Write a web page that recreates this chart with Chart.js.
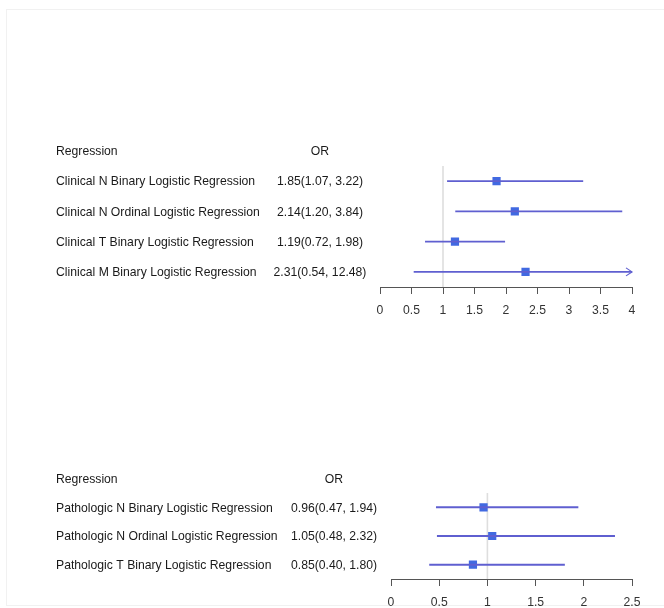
<!DOCTYPE html>
<html>
<head>
<meta charset="utf-8">
<script src="https://cdn.jsdelivr.net/npm/chart.js@4/dist/chart.umd.min.js"></script>
<style>
  html, body { margin: 0; padding: 0; background: #fff; }
  #pagina { position: relative; width: 664px; height: 608px; overflow: hidden; }
  #moldura { position: absolute; left: 6px; top: 9px; width: 680px; height: 595px; border: 1px solid #f1f1f1; }
  canvas { position: absolute; left: 0; }
</style>
</head>
<body>
<div id="pagina">
  <div id="moldura"></div>
  <canvas id="forest-clinical" width="664" height="190" style="top:130px"></canvas>
  <canvas id="forest-pathologic" width="664" height="152" style="top:460px"></canvas>
</div>
<script>
const clinicalLabels = [
  "Clinical N Binary Logistic Regression",
  "Clinical N Ordinal Logistic Regression",
  "Clinical T Binary Logistic Regression",
  "Clinical M Binary Logistic Regression"
];
const clinicalOR   = [1.85, 2.14, 1.19, 2.31];
const clinicalLow  = [1.07, 1.20, 0.72, 0.54];
const clinicalHigh = [3.22, 3.84, 1.98, 12.48];
const clinicalAxisMax = 4;

const pathologicLabels = [
  "Pathologic N Binary Logistic Regression",
  "Pathologic N Ordinal Logistic Regression",
  "Pathologic T Binary Logistic Regression"
];
const pathologicOR   = [0.96, 1.05, 0.85];
const pathologicLow  = [0.47, 0.48, 0.40];
const pathologicHigh = [1.94, 2.32, 1.80];
const pathologicAxisMax = 2.5;

const FONTE = "'Liberation Sans', Arial, sans-serif";
const COR_LINHA = "#5f5fd0";
const COR_PONTO = "#4169e1";

function textoOR(or, lo, hi) {
  return `${or.toFixed(2)}(${lo.toFixed(2)}, ${hi.toFixed(2)})`;
}

// linha de referência em OR = 1, setas e colunas de texto
const pluginForest = {
  id: "forest",
  beforeDatasetsDraw(chart) {
    const { ctx, chartArea, scales: { x } } = chart;
    const px = x.getPixelForValue(1);
    ctx.save();
    ctx.strokeStyle = "#dedede";
    ctx.lineWidth = 1.6;
    ctx.beginPath();
    ctx.moveTo(px, chartArea.top);
    ctx.lineTo(px, chartArea.bottom);
    ctx.stroke();
    ctx.restore();
  },
  afterDatasetsDraw(chart, args, opts) {
    const { ctx, scales: { x, y } } = chart;
    ctx.save();
    ctx.strokeStyle = COR_LINHA;
    ctx.lineWidth = 1.2;
    opts.high.forEach((hi, i) => {
      if (hi <= x.max) return;
      const px = x.getPixelForValue(x.max);
      const py = y.getPixelForValue(i);
      ctx.beginPath();
      ctx.moveTo(px - 6, py - 4);
      ctx.lineTo(px, py);
      ctx.lineTo(px - 6, py + 4);
      ctx.stroke();
    });
    ctx.restore();
  },
  afterDraw(chart, args, opts) {
    const { ctx, scales: { y } } = chart;
    const faixa = y.getPixelForValue(1) - y.getPixelForValue(0);
    ctx.save();
    ctx.font = "12.2px " + FONTE;
    ctx.fillStyle = "#1a1a1a";
    ctx.textBaseline = "middle";
    const yHead = y.getPixelForValue(0) - faixa + 1;
    ctx.textAlign = "left";
    ctx.fillText("Regression", opts.colNome, yHead);
    ctx.textAlign = "center";
    ctx.fillText("OR", opts.colOR, yHead);
    opts.labels.forEach((lab, i) => {
      const py = y.getPixelForValue(i) + 1;
      ctx.textAlign = "left";
      ctx.fillText(lab, opts.colNome, py);
      ctx.textAlign = "center";
      ctx.fillText(textoOR(opts.or[i], opts.low[i], opts.high[i]), opts.colOR, py);
    });
    ctx.restore();
  }
};

function criarForest(canvasId, labels, or, low, high, axisMax, layout) {
  const ctx = document.getElementById(canvasId).getContext("2d");
  return new Chart(ctx, {
    type: "bar",
    data: {
      labels,
      datasets: [
        {
          type: "bar",
          indexAxis: "y",
          data: labels.map((_, i) => [low[i], high[i]]),
          backgroundColor: COR_LINHA,
          barThickness: 1.3,
          borderWidth: 0
        },
        {
          type: "scatter",
          data: labels.map((lab, i) => ({ x: or[i], y: lab })),
          pointStyle: "rect",
          pointRadius: 5.8,
          pointHoverRadius: 5.8,
          backgroundColor: COR_PONTO,
          borderWidth: 0
        }
      ]
    },
    options: {
      responsive: false,
      animation: false,
      indexAxis: "y",
      layout: { padding: layout.padding },
      plugins: {
        legend: { display: false },
        tooltip: { enabled: false },
        forest: { labels, or, low, high, colNome: 56, colOR: layout.colOR }
      },
      scales: {
        x: {
          type: "linear",
          min: 0,
          max: axisMax,
          afterFit: s => { s.height = 30; },
          ticks: {
            stepSize: 0.5,
            color: "#333",
            padding: 9,
            font: { size: 12.2, family: FONTE },
            callback: v => String(v)
          },
          grid: { drawOnChartArea: false, drawTicks: true, tickLength: 7, color: "#555" },
          border: { display: true, color: "#555", width: 1 }
        },
        y: {
          type: "category",
          display: false,
          offset: true
        }
      }
    },
    plugins: [pluginForest]
  });
}

criarForest("forest-clinical", clinicalLabels, clinicalOR, clinicalLow, clinicalHigh, clinicalAxisMax,
  { padding: { left: 380, right: 32, top: 36, bottom: 3 }, colOR: 320 });
criarForest("forest-pathologic", pathologicLabels, pathologicOR, pathologicLow, pathologicHigh, pathologicAxisMax,
  { padding: { left: 391, right: 32, top: 33, bottom: 3 }, colOR: 334 });
</script>
</body>
</html>
